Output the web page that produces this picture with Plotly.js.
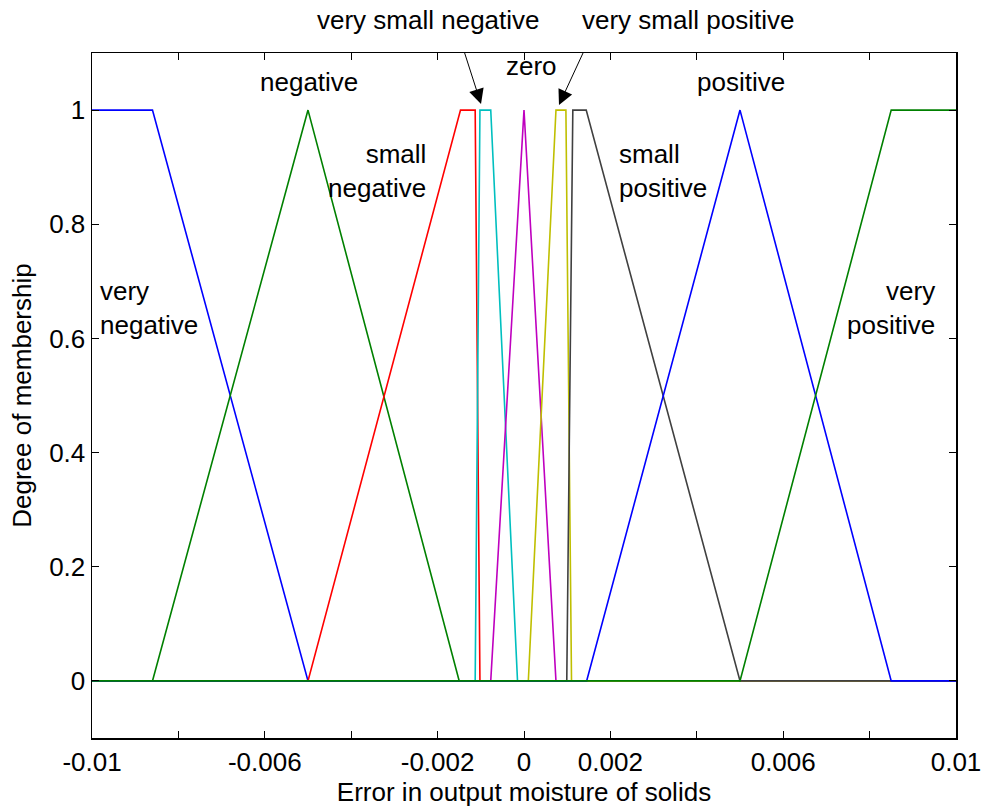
<!DOCTYPE html>
<html>
<head>
<meta charset="utf-8">
<script src="https://cdn.plot.ly/plotly-3.0.1.min.js"></script>
<style>html,body{margin:0;padding:0;background:#fff;}#chart{width:983px;height:811px;}</style>
</head>
<body>
<div id="chart"></div>
<script>
// Membership function breakpoints (x) and degrees (y)
const veryNegX = [-0.01, -0.0086, -0.005, 0.01];
const veryNegY = [1, 1, 0, 0];
const negX = [-0.01, -0.0086, -0.005, -0.0015, 0.01];
const negY = [0, 0, 1, 0, 0];
const smallNegX = [-0.01, -0.005, -0.00147, -0.00113, -0.00102, 0.01];
const smallNegY = [0, 0, 1, 1, 0, 0];
const vSmallNegX = [-0.01, -0.00113, -0.00102, -0.00077, -0.00015, 0.01];
const vSmallNegY = [0, 0, 1, 1, 0, 0];
const zeroX = [-0.01, -0.00077, 0, 0.00074, 0.01];
const zeroY = [0, 0, 1, 0, 0];
const vSmallPosX = [-0.01, 0.0001, 0.00074, 0.00097, 0.0011, 0.01];
const vSmallPosY = [0, 0, 1, 1, 0, 0];
const smallPosX = [-0.01, 0.00099, 0.00113, 0.00144, 0.005, 0.01];
const smallPosY = [0, 0, 1, 1, 0, 0];
const posX = [-0.01, 0.00145, 0.005, 0.0085, 0.01];
const posY = [0, 0, 1, 0, 0];
const veryPosX = [-0.01, 0.005, 0.0085, 0.01];
const veryPosY = [0, 0, 1, 1];

const xTickVals = [-0.01, -0.008, -0.006, -0.004, -0.002, 0, 0.002, 0.004, 0.006, 0.008, 0.01];
const xTickText = ['-0.01', '', '-0.006', '', '-0.002', '0', '0.002', '', '0.006', '', '0.01'];
const yTickVals = [0, 0.2, 0.4, 0.6, 0.8, 1];
const yTickText = ['0', '0.2', '0.4', '0.6', '0.8', '1'];

const series = [
  [veryNegX, veryNegY, '#0000ff'],
  [negX, negY, '#008000'],
  [smallNegX, smallNegY, '#ff0000'],
  [vSmallNegX, vSmallNegY, '#00bfbf'],
  [zeroX, zeroY, '#bf00bf'],
  [vSmallPosX, vSmallPosY, '#bfbf00'],
  [smallPosX, smallPosY, '#404040'],
  [posX, posY, '#0000ff'],
  [veryPosX, veryPosY, '#008000']
];

const traces = series.map(s => ({
  x: s[0], y: s[1], type: 'scatter', mode: 'lines',
  line: {color: s[2], width: 1.6}, showlegend: false, hoverinfo: 'skip'
}));

const font = {family: 'Liberation Sans, Arial, sans-serif', size: 26, color: '#000'};

const annotations = [
  {text: 'very small negative', xref: 'paper', yref: 'paper', x: 0.3889, y: 1.048, xanchor: 'center', yanchor: 'middle', showarrow: false, font: font},
  {text: 'very small positive', xref: 'paper', yref: 'paper', x: 0.6898, y: 1.048, xanchor: 'center', yanchor: 'middle', showarrow: false, font: font},
  {text: '', x: -0.000995, y: 1.0105, showarrow: true, ax: -17, ay: -53, arrowhead: 2, arrowsize: 3, arrowwidth: 1, arrowcolor: '#000'},
  {text: '', x: 0.00081, y: 1.009, showarrow: true, ax: 25, ay: -54, arrowhead: 2, arrowsize: 3, arrowwidth: 1, arrowcolor: '#000'},
  {text: 'zero', x: 0.000162, y: 1.077, showarrow: false, font: font},
  {text: 'negative', x: -0.004977, y: 1.049, showarrow: false, font: font},
  {text: 'positive', x: 0.005023, y: 1.049, showarrow: false, font: font},
  {text: 'small<br>negative', x: -0.002222, y: 0.893, xanchor: 'right', showarrow: false, font: font, align: 'right'},
  {text: 'small<br>positive', x: 0.002153, y: 0.893, xanchor: 'left', showarrow: false, font: font, align: 'left'},
  {text: 'very<br>negative', x: -0.009861, y: 0.653, xanchor: 'left', showarrow: false, font: font, align: 'left'},
  {text: 'very<br>positive', x: 0.00956, y: 0.653, xanchor: 'right', showarrow: false, font: font, align: 'right'}
];

const layout = {
  width: 983, height: 811,
  margin: {l: 92, r: 27, t: 53, b: 73},
  paper_bgcolor: '#fff', plot_bgcolor: '#fff',
  font: font,
  xaxis: {
    range: [-0.01, 0.01], tickmode: 'array', tickvals: xTickVals, ticktext: xTickText,
    ticks: 'inside', ticklen: 7, tickwidth: 1, tickcolor: '#000', mirror: 'ticks',
    showline: true, linecolor: '#000', linewidth: 1.5, showgrid: false, zeroline: false,
    tickfont: font,
    title: {text: 'Error in output moisture of solids', font: font, standoff: 6}
  },
  yaxis: {
    range: [-0.1, 1.1], tickmode: 'array', tickvals: yTickVals, ticktext: yTickText,
    ticks: 'inside', ticklen: 7, tickwidth: 1, tickcolor: '#000', mirror: 'ticks',
    showline: true, linecolor: '#000', linewidth: 1.5, showgrid: false, zeroline: false,
    tickfont: font,
    title: {text: 'Degree of membership', font: font, standoff: 10}
  },
  annotations: annotations
};

Plotly.newPlot('chart', traces, layout, {displayModeBar: false, staticPlot: true});
</script>
</body>
</html>
